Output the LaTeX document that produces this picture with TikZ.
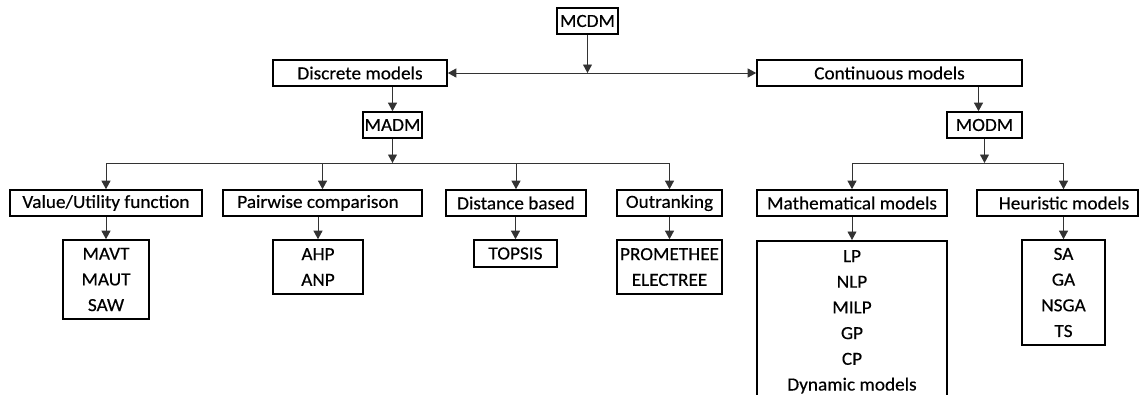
\documentclass[tikz,border=0pt]{standalone}
\usepackage{fontspec}
\setmainfont{Carlito}[FakeStretch=1.04,FakeBold=0.4]
\usetikzlibrary{arrows.meta}
\begin{document}
\begin{tikzpicture}[x=1pt,y=-1pt,
  box/.style={draw=black,line width=1.6pt,inner sep=0pt,align=center,
    font=\fontsize{18.5}{25.7}\selectfont},
  conn/.style={draw=black!80,line width=0.9pt},
  tip/.tip={Triangle[width=9pt,length=8.5pt]},
  arr/.style={conn,-tip},
  biarr/.style={conn,tip-tip}]
\useasboundingbox (0,0) rectangle (1140,394);

% root and first split
\node[box,minimum width=61pt,minimum height=26pt] (mcdm) at (587.5,21) {MCDM};
\node[box,minimum width=174pt,minimum height=26pt] (disc) at (360,73) {Discrete models};
\node[box,minimum width=265pt,minimum height=26pt] (cont) at (889.5,73) {Continuous models};
\node[box,minimum width=59pt,minimum height=26pt] (madm) at (392.5,125) {MADM};
\node[box,minimum width=75pt,minimum height=26pt] (modm) at (984.5,125) {MODM};

% method families
\node[box,minimum width=192pt,minimum height=26pt] (value) at (106,203) {Value/Utility function};
\node[box,minimum width=199pt,minimum height=26pt] (pair) at (322.5,203) {Pairwise comparison\hspace*{9pt}};
\node[box,minimum width=140pt,minimum height=26pt] (dist) at (516,203) {Distance based};
\node[box,minimum width=105pt,minimum height=26pt] (outr) at (669.5,203) {Outranking};
\node[box,minimum width=190pt,minimum height=26pt] (math) at (852,203) {Mathematical models};
\node[box,minimum width=161pt,minimum height=26pt] (heur) at (1057.5,203) {\hspace*{13pt}Heuristic models};

% individual methods
\node[box,minimum width=86pt,minimum height=79pt] (mavt) at (106,279.5) {MAVT\\MAUT\\SAW};
\node[box,minimum width=90pt,minimum height=54pt] (ahp) at (318,267) {AHP\\ANP};
\node[box,minimum width=83pt,minimum height=27pt] (topsis) at (515.5,253.5) {TOPSIS};
\node[box,minimum width=105pt,minimum height=54pt] (prom) at (669.5,267) {PROMETHEE\\ELECTREE};
\node[box,minimum width=190pt,minimum height=162pt,anchor=north] (mlist) at (852,240)
  {LP\\NLP\\MILP\\GP\\CP\\Dynamic models};
\node[box,minimum width=83pt,minimum height=105pt] (hlist) at (1063.5,292.5) {SA\\GA\\NSGA\\TS};

% connectors
\coordinate (busA) at (0,163);
\coordinate (modmin) at ([xshift=-6pt]modm.north);

\draw[arr] (mcdm.south) -- (mcdm.south |- disc.east);
\draw[biarr] (disc.east) -- (cont.west);
\draw[arr] (disc.south -| madm.north) -- (madm.north);
\draw[arr] (cont.south -| modmin) -- (modmin);

\draw[arr] (madm.south) -- (madm.south |- busA);
\draw[conn] (value.north |- busA) -- (outr.north |- busA);
\foreach \n in {value,pair,dist,outr}
  \draw[arr] (\n.north |- busA) -- (\n.north);
\foreach \a/\b in {value/mavt,pair/ahp,dist/topsis,outr/prom}
  \draw[arr] (\a.south -| \b.north) -- (\b.north);

\draw[arr] (modm.south) -- (modm.south |- busA);
\draw[conn] (math.north |- busA) -- (hlist.north |- busA);
\draw[arr] (math.north |- busA) -- (math.north);
\draw[arr] (hlist.north |- busA) -- (hlist.north |- heur.north);
\draw[arr] (math.south) -- (mlist.north);
\draw[arr] (heur.south -| hlist.north) -- (hlist.north);
\end{tikzpicture}
\end{document}
